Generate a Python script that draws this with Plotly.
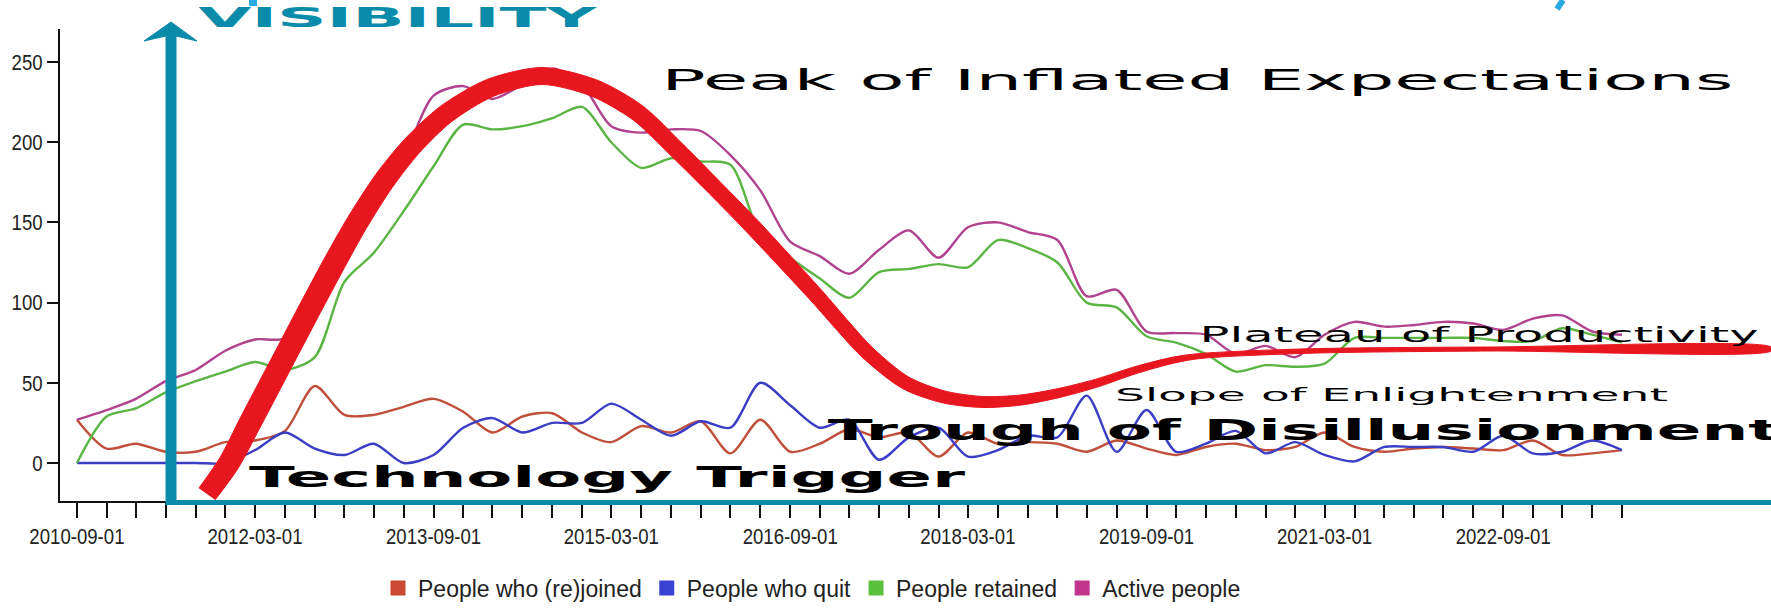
import json
import numpy as np
import pandas as pd
import plotly.graph_objects as go

W, H = 1771, 608
PLOT_L, PLOT_R, PLOT_T, PLOT_B = 60, 1636, 29, 501

# ---------------- chart data (quarterly readings) ----------------
dates = pd.date_range("2010-09-01", "2023-09-01", freq="3MS")

joined = [27, 9, 12, 7, 7, 13, 14, 20, 48, 30, 30, 35, 40, 32, 19, 29, 31, 19, 13, 23,
          19, 26, 6, 27, 7, 12, 21, 16, 19, 4, 19, 12, 13, 12, 7, 14, 9, 5, 10, 12,
          8, 10, 19, 10, 7, 9, 10, 9, 8, 14, 5, 6, 8]
quit_ = [0, 0, 0, 0, 0, 0, 8, 19, 9, 5, 12, 0, 5, 22, 28, 19, 25, 25, 37, 27,
         17, 26, 22, 50, 36, 22, 27, 2, 16, 22, 4, 8, 17, 16, 42, 7, 33, 7, 12, 20,
         6, 13, 5, 1, 10, 10, 10, 7, 17, 6, 7, 14, 8]
retained = [0, 29, 34, 44, 51, 57, 63, 58, 66, 113, 131, 157, 185, 211, 208, 210, 215, 222, 200, 184,
            190, 188, 186, 143, 128, 115, 103, 119, 121, 124, 122, 139, 134, 125, 100, 97, 79, 75, 68, 57,
            61, 60, 62, 78, 78, 78, 78, 78, 76, 76, 84, 80, 75]
active = [27, 33, 40, 51, 58, 70, 77, 78, 114, 143, 161, 190, 229, 235, 227, 236, 246, 236, 210, 206,
          208, 207, 192, 170, 138, 129, 118, 133, 145, 128, 147, 150, 144, 139, 104, 108, 82, 81, 80, 68,
          73, 66, 80, 88, 85, 86, 88, 87, 83, 90, 92, 82, 80]

series_names = ["People who (re)joined", "People who quit", "People retained", "Active people"]
series_values = [joined, quit_, retained, active]
line_colors = ["#bf4f3a", "#3b3ec4", "#5ab543", "#b0428e"]
legend_colors = ["#cc4a35", "#3a42d2", "#57c13c", "#c2358d"]

y_ticks = [0, 50, 100, 150, 200, 250]
x_range = ["2010-07-11", "2023-10-14"]
y_range = [-23.7, 270.6]

# ---------------- hype-cycle overlay (drawn in page pixels) ----------------
HYPE_X = [207, 229, 250, 271, 292, 313, 335, 357, 384, 412, 446, 490, 542, 594, 638, 677,
          715, 753, 814, 868, 906, 944, 983, 1021, 1059, 1097, 1136, 1174, 1200, 1309, 1491, 1771]
HYPE_Y = [494, 463, 423, 383, 343, 303, 262, 223, 181, 146, 114, 88, 76, 88, 113, 150,
          188, 227, 293, 353, 383, 397, 402, 400, 393, 383, 370, 360, 356, 351, 349, 349]
HYPE_W = [20, 21, 22, 22, 22, 22, 22, 21.5, 21, 20, 19, 18, 17, 17, 17, 16.5,
          16, 16, 15, 14, 13, 12, 11, 10, 9, 8, 7, 6, 5, 4.5, 4, 4]

ARROW_X = [171, 197, 176, 166, 144, 171]
ARROW_Y = [22, 41, 36, 36, 41, 22]
SHAFT_X = [171, 171]
SHAFT_Y = [505, 36]
BASE_X = [166, 1771]
BASE_Y = [502.5, 502.5]
FRAG1_X = [253, 253]
FRAG1_Y = [0, 6]
FRAG2_X = [1563, 1557]
FRAG2_Y = [0, 9]

LABELS = [
    # text, x-centre, y-centre, size, bold, stretched width, colour
    ("VISIBILITY", 398, 18, 26, True, 398, "#0a8ba9"),
    ("Peak of Inflated Expectations", 1197, 80, 29, False, 1072, "#000000"),
    ("Technology Trigger", 607, 477, 29, True, 716, "#000000"),
    ("Trough of Disillusionment", 1304, 430, 29, True, 952, "#000000"),
    ("Slope of Enlightenment", 1391, 394, 18, False, 553, "#000000"),
    ("Plateau of Productivity", 1479, 334, 22, False, 559, "#000000"),
]

TEAL = "#0a8ba9"
LIGHT_BLUE = "#2aa8e0"
RED = "#e8161f"
ARIAL = "Liberation Sans, Arial, Helvetica, sans-serif"
TICK_SQUEEZE = 0.845

fig = go.Figure()

# data lines
for name, vals, col in zip(series_names, series_values, line_colors):
    fig.add_trace(go.Scatter(x=dates, y=vals, mode="lines", name=name, showlegend=False,
                             line=dict(color=col, width=2.4, shape="spline", smoothing=0.8),
                             xaxis="x", yaxis="y", hoverinfo="skip"))
# legend squares
for name, col in zip(series_names, legend_colors):
    fig.add_trace(go.Scatter(x=[None], y=[None], mode="markers", name=name,
                             marker=dict(symbol="square", size=15, color=col),
                             xaxis="x", yaxis="y"))

# hype curve as a tapered band (closed outline)
cx = np.array(HYPE_X, float)
cy = np.array(HYPE_Y, float)
hw = np.array(HYPE_W, float) / 2
dx = np.gradient(cx)
dy = np.gradient(cy)
nn = np.hypot(dx, dy)
nx, ny = -dy / nn, dx / nn
band_x = np.concatenate([cx + nx * hw, (cx - nx * hw)[::-1]])
band_y = np.concatenate([cy + ny * hw, (cy - ny * hw)[::-1]])
fig.add_trace(go.Scatter(x=band_x, y=band_y, mode="lines", fill="toself", fillcolor=RED,
                         showlegend=False, line=dict(color=RED, width=1, shape="spline", smoothing=0.8),
                         xaxis="x2", yaxis="y2", hoverinfo="skip"))

# teal axis arrow
fig.add_trace(go.Scatter(x=BASE_X, y=BASE_Y, mode="lines", showlegend=False,
                         line=dict(color=TEAL, width=5), xaxis="x2", yaxis="y2", hoverinfo="skip"))
fig.add_trace(go.Scatter(x=SHAFT_X, y=SHAFT_Y, mode="lines", showlegend=False,
                         line=dict(color=TEAL, width=11), xaxis="x2", yaxis="y2", hoverinfo="skip"))
fig.add_trace(go.Scatter(x=ARROW_X, y=ARROW_Y, mode="lines", fill="toself", fillcolor=TEAL,
                         showlegend=False, line=dict(color=TEAL, width=1), xaxis="x2", yaxis="y2",
                         hoverinfo="skip"))
# small clipped light-blue fragments at the top edge
fig.add_trace(go.Scatter(x=FRAG1_X, y=FRAG1_Y, mode="lines", showlegend=False,
                         line=dict(color=LIGHT_BLUE, width=8), xaxis="x2", yaxis="y2", hoverinfo="skip"))
fig.add_trace(go.Scatter(x=FRAG2_X, y=FRAG2_Y, mode="lines", showlegend=False,
                         line=dict(color=LIGHT_BLUE, width=6), xaxis="x2", yaxis="y2", hoverinfo="skip"))

for text, xc, yc, size, bold, wdt, col in LABELS:
    fig.add_annotation(x=xc, y=yc, xref="x2", yref="y2", text=text, showarrow=False,
                       xanchor="center", yanchor="middle",
                       font=dict(family="DejaVu Sans, Verdana, sans-serif", size=size, color=col,
                                 weight="bold" if bold else "normal"))

fig.update_layout(
    width=W, height=H, autosize=False,
    margin=dict(l=0, r=0, t=0, b=0, autoexpand=False),
    paper_bgcolor="white", plot_bgcolor="rgba(0,0,0,0)",
    xaxis=dict(domain=[PLOT_L / W, PLOT_R / W], type="date", range=x_range, automargin=False,
               tick0="2010-09-01", dtick="M18", tickformat="%Y-%m-%d",
               ticks="outside", ticklen=15, tickwidth=1.5, tickcolor="#111",
               minor=dict(dtick="M3", tick0="2010-09-01", ticks="outside", ticklen=15,
                          tickwidth=1.5, tickcolor="#111", showgrid=False),
               showline=True, linecolor="#111", linewidth=2, showgrid=False, zeroline=False,
               tickfont=dict(family=ARIAL, size=22, color="#222"), anchor="y"),
    yaxis=dict(domain=[(H - PLOT_B) / H, (H - PLOT_T) / H], range=y_range, automargin=False,
               tickvals=y_ticks, ticks="outside", ticklen=11, tickwidth=1.5, tickcolor="#111",
               showline=True, linecolor="#111", linewidth=2, showgrid=False, zeroline=False,
               tickfont=dict(family=ARIAL, size=22, color="#222"), anchor="x"),
    xaxis2=dict(domain=[0, 1], range=[0, W], visible=False, anchor="y2", fixedrange=True,
                automargin=False),
    yaxis2=dict(domain=[0, 1], range=[H, 0], visible=False, anchor="x2", fixedrange=True,
                automargin=False),
    showlegend=True,
    legend=dict(orientation="h", x=812 / W, xanchor="center", y=1 - 588 / H, yanchor="middle",
                font=dict(family=ARIAL, size=23, color="#222"), bgcolor="rgba(0,0,0,0)",
                itemclick=False),
)

stretch = {t: w for t, _, _, _, _, w, _ in LABELS}
post = """
document.body.style.margin = '0';
document.body.style.overflow = 'hidden';
var targets = %s;
var squeeze = %s;
var gd = document.getElementById('{plot_id}');
gd.querySelectorAll('text.annotation-text').forEach(function (t) {
  var s = t.textContent;
  if (targets[s]) {
    t.setAttribute('textLength', targets[s]);
    t.setAttribute('lengthAdjust', 'spacingAndGlyphs');
  }
});
gd.querySelectorAll('g.xtick text, g.ytick text').forEach(function (t) {
  var L = t.getComputedTextLength();
  t.setAttribute('textLength', L * squeeze);
  t.setAttribute('lengthAdjust', 'spacingAndGlyphs');
});
""" % (json.dumps(stretch), json.dumps(TICK_SQUEEZE))

fig.write_html("out.html", post_script=post, config={"displayModeBar": False})
